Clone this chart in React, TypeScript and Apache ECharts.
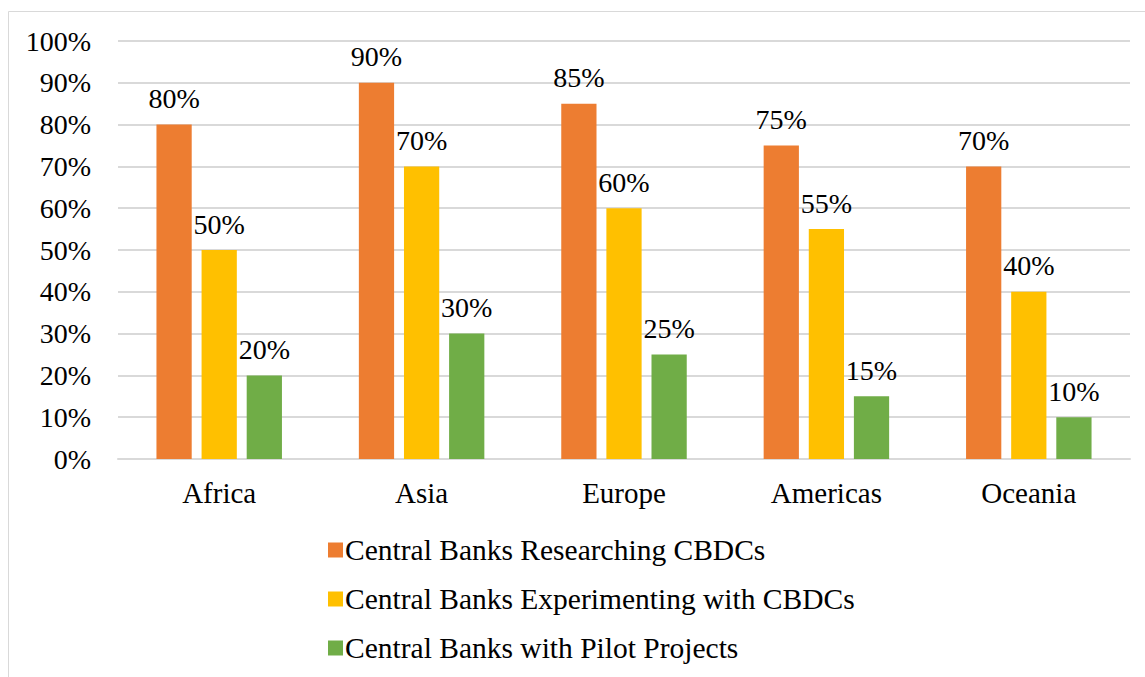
import React, { useEffect, useRef } from "react";
import * as echarts from "echarts";

const categories = ["Africa", "Asia", "Europe", "Americas", "Oceania"];
const researching = [80, 90, 85, 75, 70];
const experimenting = [50, 70, 60, 55, 40];
const pilots = [20, 30, 25, 15, 10];
const seriesNames = [
  "Central Banks Researching CBDCs",
  "Central Banks Experimenting with CBDCs",
  "Central Banks with Pilot Projects",
];
const colors = ["#ED7D31", "#FFC000", "#70AD47"];

const FONT = "Liberation Serif";
const FS_NUM = 28;
const FS_TXT = 29;
const FS_LEG = 29.5;

export default function App() {
  const ref = useRef<HTMLDivElement>(null);
  useEffect(() => {
    const chart = echarts.init(ref.current!, undefined, { renderer: "svg" });
    const mk = (name: string, data: number[], color: string) => ({
      name,
      type: "bar",
      data,
      itemStyle: { color },
      barGap: "28%",
      barCategoryGap: "38%",
      label: {
        show: true,
        position: "top",
        distance: 12,
        formatter: (p: any) => p.value + "%",
        color: "#000",
        fontFamily: FONT,
        fontSize: FS_NUM,
      },
    });
    chart.setOption({
      animation: false,
      textStyle: { fontFamily: FONT },
      graphic: [
        {
          type: "rect",
          shape: { x: 8.5, y: 11.5, width: 1200, height: 700 },
          style: { fill: "none", stroke: "#D9D9D9", lineWidth: 1 },
          silent: true,
        },
      ],
      grid: { left: 118, right: 15, top: 41, bottom: 218, containLabel: false },
      legend: {
        orient: "vertical",
        left: 323,
        top: 530,
        itemWidth: 15,
        itemHeight: 15,
        itemGap: 19,
        icon: "rect",
        textStyle: { color: "#000", fontFamily: FONT, fontSize: FS_LEG, padding: [0, 0, 0, -3] },
        data: seriesNames,
      },
      xAxis: {
        type: "category",
        data: categories,
        axisLine: { lineStyle: { color: "#D9D9D9", width: 2 } },
        axisTick: { show: false },
        axisLabel: { color: "#000", fontFamily: FONT, fontSize: FS_TXT, margin: 19 },
      },
      yAxis: {
        type: "value",
        min: 0,
        max: 100,
        interval: 10,
        axisLine: { show: false },
        axisTick: { show: false },
        splitLine: { lineStyle: { color: "#D9D9D9", width: 2 } },
        axisLabel: {
          color: "#000",
          fontFamily: FONT,
          fontSize: FS_NUM,
          margin: 27,
          formatter: (v: number) => v + "%",
        },
      },
      series: [
        mk(seriesNames[0], researching, colors[0]),
        mk(seriesNames[1], experimenting, colors[1]),
        mk(seriesNames[2], pilots, colors[2]),
      ],
    });
    return () => chart.dispose();
  }, []);
  return (
    <div
      ref={ref}
      style={{ position: "absolute", left: 0, top: 0, width: 1145, height: 677, background: "#fff" }}
    />
  );
}
